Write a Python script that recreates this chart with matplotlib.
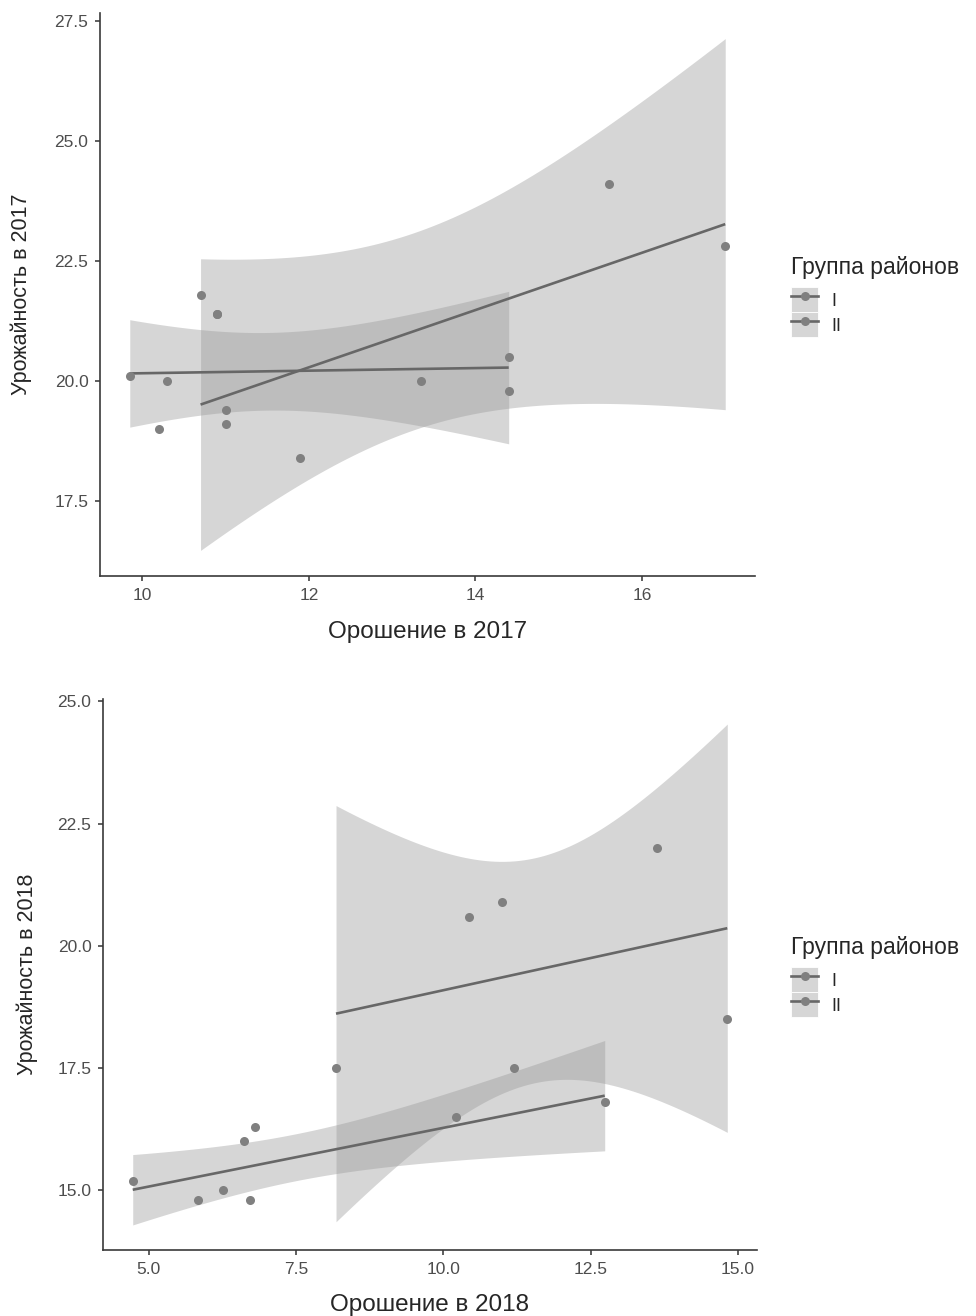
import numpy as np
import matplotlib
matplotlib.use("Agg")
import matplotlib.pyplot as plt
from matplotlib.patches import Patch
from matplotlib.lines import Line2D

plt.rcParams['font.family'] = ['Liberation Sans', 'DejaVu Sans']

# ---------------- data ----------------
groups = ["I", "II"]
legend_title = "Группа районов"

x2017_I = [9.85, 10.2, 10.3, 10.9, 10.9, 11.0, 14.4, 14.4]
y2017_I = [20.1, 19.0, 20.0, 21.4, 21.4, 19.4, 20.5, 19.8]
x2017_II = [10.7, 11.0, 11.9, 13.35, 15.6, 17.0]
y2017_II = [21.8, 19.1, 18.4, 20.0, 24.1, 22.8]

x2018_I = [4.73, 5.84, 6.26, 6.61, 6.72, 6.8, 10.21, 12.74]
y2018_I = [15.2, 14.8, 15.0, 16.0, 14.8, 16.3, 16.5, 16.8]
x2018_II = [8.18, 10.44, 11.0, 11.2, 13.63, 14.82]
y2018_II = [17.5, 20.6, 20.9, 17.5, 22.0, 18.5]

xticks_2017 = [10, 12, 14, 16]
yticks_2017 = [17.5, 20.0, 22.5, 25.0, 27.5]
xticks_2018 = [5.0, 7.5, 10.0, 12.5, 15.0]
yticks_2018 = [15.0, 17.5, 20.0, 22.5, 25.0]

xlabel_2017 = "Орошение в 2017"
ylabel_2017 = "Урожайность в 2017"
xlabel_2018 = "Орошение в 2018"
ylabel_2018 = "Урожайность в 2018"

# t quantiles (0.975) by degrees of freedom
T975 = {3: 3.182446, 4: 2.776445, 5: 2.570582, 6: 2.446912, 7: 2.364624, 8: 2.306004}

# ---------------- style ----------------
W, H = 976, 1316
LINE_C = "#676767"
PT_C = "#808080"
FILL_C = "#999999"
FILL_A = 0.4


def px_rect(x0, y0, x1, y1):
    return [x0 / W, 1 - y1 / H, (x1 - x0) / W, (y1 - y0) / H]


def lm_fit(x, y, n=80):
    x = np.asarray(x, float)
    y = np.asarray(y, float)
    b, a = np.polyfit(x, y, 1)
    X = np.linspace(x.min(), x.max(), n)
    Y = a + b * X
    r = y - (a + b * x)
    dof = len(x) - 2
    s = np.sqrt(np.sum(r ** 2) / dof)
    mx = x.mean()
    sxx = np.sum((x - mx) ** 2)
    se = s * np.sqrt(1 / len(x) + (X - mx) ** 2 / sxx)
    t = T975[dof]
    return X, Y, Y - t * se, Y + t * se


def panel(ax, series, xticks, yticks, fmt, xlabel, ylabel, xlab_y, ylab_x):
    xs_all, ys_all = [], []
    fits = []
    for xv, yv in series:
        X, Y, lo, hi = lm_fit(xv, yv)
        fits.append((X, Y, lo, hi))
        xs_all += list(xv)
        ys_all += list(yv) + list(lo) + list(hi)
    for (X, Y, lo, hi) in fits:
        ax.fill_between(X, lo, hi, color=FILL_C, alpha=FILL_A, lw=0, zorder=1)
    for (X, Y, lo, hi) in fits:
        ax.plot(X, Y, color=LINE_C, lw=1.9, zorder=2, solid_capstyle='butt')
    for xv, yv in series:
        ax.plot(xv, yv, 'o', color=PT_C, ms=6.5, mew=0, zorder=3)
    x0, x1 = min(xs_all), max(xs_all)
    y0, y1 = min(ys_all), max(ys_all)
    dx, dy = (x1 - x0) * 0.05, (y1 - y0) * 0.05
    ax.set_xlim(x0 - dx, x1 + dx)
    ax.set_ylim(y0 - dy, y1 + dy)
    ax.set_xticks(xticks)
    ax.set_yticks(yticks)
    ax.set_xticklabels([fmt.format(v) for v in xticks])
    ax.set_yticklabels(["{:.1f}".format(v) for v in yticks])
    for sp in ["top", "right"]:
        ax.spines[sp].set_visible(False)
    for sp in ["left", "bottom"]:
        ax.spines[sp].set_color("#3a3a3a")
        ax.spines[sp].set_linewidth(1.2)
    ax.tick_params(length=3.8, width=1.1, color="#333333", labelsize=12.5,
                   labelcolor="#4d4d4d", pad=4.5)
    ax.set_xlabel(xlabel, fontsize=17.5, color="#262626")
    ax.set_ylabel(ylabel, fontsize=15.5, color="#262626")
    ax.xaxis.set_label_coords(0.5, xlab_y, transform=ax.transAxes)
    ax.yaxis.set_label_coords(ylab_x, 0.5, transform=ax.transAxes)


def add_legend(fig, top_px):
    handles = []
    for g in groups:
        bg = Patch(facecolor="#d6d6d6", edgecolor="white", linewidth=0.6)
        ln = Line2D([], [], color=LINE_C, lw=1.9, marker='o', ms=6.5,
                    markerfacecolor=PT_C, markeredgewidth=0)
        handles.append((bg, ln))
    leg = fig.legend(handles, groups, loc="upper left",
                     bbox_to_anchor=(791 / W, 1 - top_px / H),
                     frameon=False, title=legend_title, fontsize=13,
                     title_fontsize=16.5, handlelength=1.5, handleheight=1.75,
                     labelspacing=0.0, handletextpad=0.75, borderpad=0,
                     borderaxespad=0)
    leg._legend_box.align = "left"
    leg._legend_box.sep = 6
    leg.get_title().set_color("#262626")
    for t in leg.get_texts():
        t.set_color("#262626")
    return leg


fig = plt.figure(figsize=(W / 100, H / 100), dpi=100)

ax1 = fig.add_axes(px_rect(100, 13, 755, 576))
panel(ax1, [(x2017_I, y2017_I), (x2017_II, y2017_II)],
      xticks_2017, yticks_2017, "{:d}", xlabel_2017, ylabel_2017,
      -0.08, -0.104)

ax2 = fig.add_axes(px_rect(103, 699, 757, 1250))
panel(ax2, [(x2018_I, y2018_I), (x2018_II, y2018_II)],
      xticks_2018, yticks_2018, "{:.1f}", xlabel_2018, ylabel_2018,
      -0.08, -0.1)

add_legend(fig, 256)
add_legend(fig, 936)

fig.savefig("out.png", dpi=100, facecolor="white")
